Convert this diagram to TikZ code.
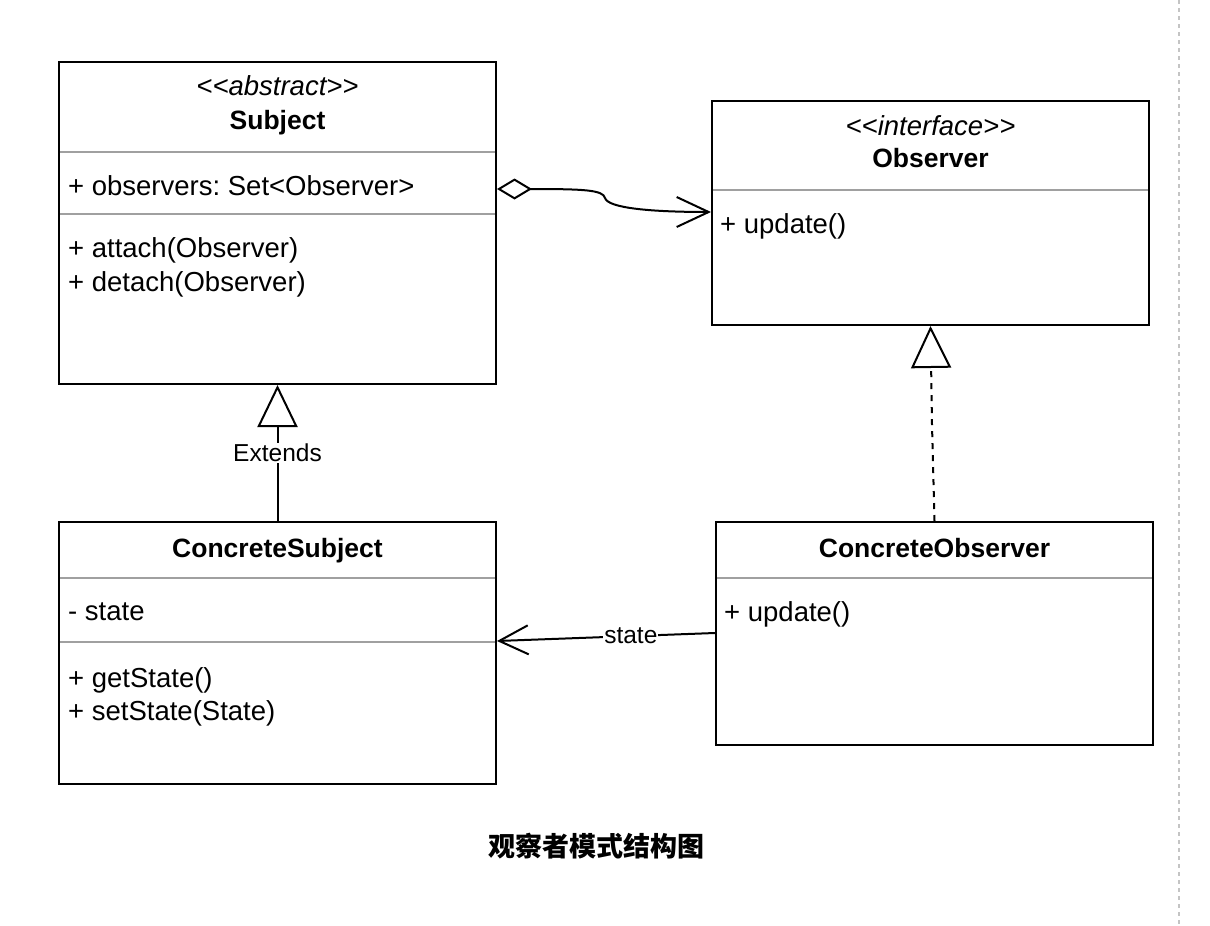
\documentclass[tikz,border=0pt]{standalone}
\usepackage{fontspec}
\setmainfont{Liberation Sans}
\newfontfamily\cjk{Noto Sans CJK SC}
\usetikzlibrary{arrows.meta}
\frenchspacing
\newcommand\ltsym{\symbol{60}}
\newcommand\gtsym{\symbol{62}}
\definecolor{sepgray}{HTML}{A0A0A0}
\definecolor{dashgray}{HTML}{C4C4C4}
\tikzset{
  umlbox/.style={draw=black, line width=2pt, fill=white, inner sep=0pt, minimum width=437pt},
  sepline/.style={draw=sepgray, line width=2pt},
  txt/.style={inner sep=0pt, font=\fontsize{27.5}{33}\selectfont, anchor=base west},
  ctxt/.style={inner sep=0pt, font=\fontsize{27.5}{33}\selectfont, anchor=base},
  btxt/.style={ctxt, font=\bfseries\fontsize{26.5}{33}\selectfont},
  itxt/.style={ctxt, font=\itshape\fontsize{27.5}{33}\selectfont},
  lbl/.style={fill=white, inner sep=1pt, font=\fontsize{24.5}{28}\selectfont},
  conn/.style={line width=2pt, draw=black},
}
\begin{document}
\begin{tikzpicture}[x=1pt,y=-1pt]
\useasboundingbox (0,0) rectangle (1210,926);
\fill[white] (0,0) rectangle (1210,926);

% boxes
\node[umlbox, minimum height=322pt] (subj) at (277.5,223) {};
\node[umlbox, minimum height=224pt] (obs) at (930.5,213) {};
\node[umlbox, minimum height=262pt] (csub) at (277.5,653) {};
\node[umlbox, minimum height=223pt] (cobs) at (934.5,633.5) {};

% separators
\draw[sepline] (60,152) -- (495,152);
\draw[sepline] (60,214) -- (495,214);
\draw[sepline] (713,190) -- (1148,190);
\draw[sepline] (60,578) -- (495,578);
\draw[sepline] (60,642) -- (495,642);
\draw[sepline] (717,578) -- (1152,578);

% Subject texts
\node[itxt] (subjst) at (277.5,95) {\ltsym\ltsym abstract\gtsym\gtsym};
\node[btxt] (subjname) at (277.5,129) {Subject};
\node[txt] (subja1) at (68,195) {+ observers: Set\ltsym Observer\gtsym};
\node[txt] (subjm1) at (68,257) {+ attach(Observer)};
\node[txt] (subjm2) at (68,291) {+ detach(Observer)};

% Observer texts
\node[itxt] (obsst) at (930.5,135) {\ltsym\ltsym interface\gtsym\gtsym};
\node[btxt] (obsname) at (930.5,167) {Observer};
\node[txt] (obsm1) at (720,233) {+ update()};

% ConcreteSubject texts
\node[btxt] (csubname) at (277.5,557) {ConcreteSubject};
\node[txt] (csuba1) at (68,620) {- state};
\node[txt] (csubm1) at (68,687) {+ getState()};
\node[txt] (csubm2) at (68,720) {+ setState(State)};

% ConcreteObserver texts
\node[btxt] (cobsname) at (934.5,557) {ConcreteObserver};
\node[txt] (cobsm1) at (724,621) {+ update()};

% connector anchor points
\coordinate (aggS) at (subj.east |- 0,189);
\coordinate (aggO) at (obs.west |- 0,212);
\coordinate (stS) at (csub.east |- 0,641);
\coordinate (stO) at (cobs.west |- 0,633);

% aggregation
\draw[conn, {Diamond[fill=white,length=35pt,width=21pt]}-{Straight Barb[length=32pt,width=30pt]}]
  (aggS) .. controls (585,189) and (603,190) .. (605,198)
  .. controls (608,208) and (650,212) .. (aggO);

% inheritance
\draw[conn, -{Triangle[fill=white,length=42pt,width=40pt]}]
  (csub.north) -- node[lbl, pos=0.5] {Extends} (subj.south);

% realization
\draw[conn, dash pattern=on 6pt off 6pt, -{Triangle[fill=white,length=42pt,width=40pt]}]
  (cobs.north) -- (932,425) -- (obs.south);

% dependency
\draw[conn, -{Straight Barb[length=29pt,width=29pt]}]
  (stO) -- node[lbl, pos=0.386] {state} (stS);

% title
\node[font=\cjk\bfseries\fontsize{27}{32}\selectfont, inner sep=0pt] (title) at (596,846) {观察者模式结构图};

% right dashed border
\draw[dashgray, line width=2pt, dash pattern=on 4pt off 4pt] (1179,0) -- (1179,926);
\end{tikzpicture}
\end{document}
